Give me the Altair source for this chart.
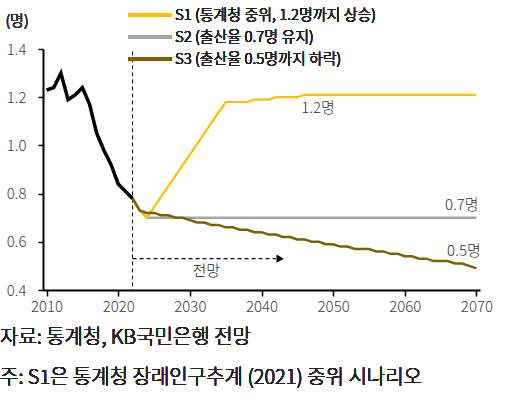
import altair as alt
import pandas as pd

FONT = "Noto Sans CJK KR"

# ---------------- data ----------------
hist_years = [2010, 2011, 2012, 2013, 2014, 2015, 2016, 2017, 2018, 2019, 2020, 2021, 2022]
hist_values = [1.23, 1.24, 1.30, 1.19, 1.21, 1.24, 1.17, 1.05, 0.98, 0.92, 0.84, 0.81, 0.78]

proj_years = list(range(2022, 2071))
s1_values = [0.78, 0.73, 0.70, 0.744, 0.787, 0.831, 0.875, 0.918, 0.962, 1.005,
             1.049, 1.093, 1.136, 1.18, 1.18, 1.18, 1.18, 1.19, 1.19, 1.19,
             1.20, 1.20, 1.20, 1.20, 1.21, 1.21, 1.21, 1.21, 1.21, 1.21,
             1.21, 1.21, 1.21, 1.21, 1.21, 1.21, 1.21, 1.21, 1.21, 1.21,
             1.21, 1.21, 1.21, 1.21, 1.21, 1.21, 1.21, 1.21, 1.21]
s2_values = [0.78, 0.73, 0.70, 0.70, 0.70, 0.70, 0.70, 0.70, 0.70, 0.70,
             0.70, 0.70, 0.70, 0.70, 0.70, 0.70, 0.70, 0.70, 0.70, 0.70,
             0.70, 0.70, 0.70, 0.70, 0.70, 0.70, 0.70, 0.70, 0.70, 0.70,
             0.70, 0.70, 0.70, 0.70, 0.70, 0.70, 0.70, 0.70, 0.70, 0.70,
             0.70, 0.70, 0.70, 0.70, 0.70, 0.70, 0.70, 0.70, 0.70]
s3_values = [0.78, 0.73, 0.72, 0.72, 0.71, 0.71, 0.70, 0.70, 0.69, 0.68,
             0.68, 0.67, 0.67, 0.66, 0.66, 0.65, 0.65, 0.64, 0.64, 0.63,
             0.63, 0.62, 0.62, 0.61, 0.61, 0.60, 0.60, 0.59, 0.59, 0.58,
             0.58, 0.57, 0.57, 0.57, 0.56, 0.56, 0.55, 0.55, 0.54, 0.54,
             0.53, 0.53, 0.52, 0.52, 0.52, 0.51, 0.51, 0.50, 0.49]

series_names = ["S1 (통계청 중위, 1.2명까지 상승)",
                "S2 (출산율 0.7명 유지)",
                "S3 (출산율 0.5명까지 하락)"]
series_colors = ["#FFC000", "#A6A6A6", "#7F6000"]

x_ticks = [2010, 2020, 2030, 2040, 2050, 2060, 2070]
y_ticks = [0.4, 0.6, 0.8, 1.0, 1.2, 1.4]

end_labels = ["1.2명", "0.7명", "0.5명"]
end_label_years = [2047.9, 2070.3, 2070.6]
end_label_values = [1.155, 0.752, 0.56]

unit_label = "(명)"
forecast_label = "전망"
source_note = "자료: 통계청, KB국민은행 전망"
foot_note = "주: S1은 통계청 장래인구추계 (2021) 중위 시나리오"

# ---------------- tables ----------------
hist_df = pd.DataFrame({"year": hist_years, "value": hist_values})
proj_frames = []
for name, vals in zip(series_names, [s1_values, s2_values, s3_values]):
    proj_frames.append(pd.DataFrame({"year": proj_years, "value": vals, "series": name}))

W, H = 437, 241
TXT = dict(font=FONT, fontWeight=300)

xs = alt.X("year:Q",
           scale=alt.Scale(domain=[2009.5, 2070.5], nice=False, zero=False),
           axis=alt.Axis(values=x_ticks, format="d", title=None, grid=False,
                         labelFontSize=15, labelColor="#404040", labelFont=FONT,
                         labelFontWeight=300,
                         domainColor="black", domainWidth=2, tickColor="black",
                         tickWidth=1.5, tickSize=6, labelPadding=3))
ys = alt.Y("value:Q",
           scale=alt.Scale(domain=[0.4, 1.4], nice=False, zero=False),
           axis=alt.Axis(values=y_ticks, format=".1f", title=None, grid=False,
                         labelFontSize=15, labelColor="#404040", labelFont=FONT,
                         labelFontWeight=300,
                         domainColor="black", domainWidth=2, tickColor="black",
                         tickWidth=1.5, tickSize=5, labelPadding=12))

layers = []

# dashed vertical separator at last observed year
sep_df = pd.DataFrame({"year": [hist_years[-1]], "value": [1.39], "value2": [0.4]})
layers.append(alt.Chart(sep_df).mark_rule(color="black", strokeWidth=1, strokeDash=[4, 3])
              .encode(x=xs, y=ys, y2="value2:Q"))

# projection lines (draw order: S2, S1, S3)
widths = [2.2, 2.5, 2.5]
for idx in [1, 0, 2]:
    layers.append(alt.Chart(proj_frames[idx]).mark_line(color=series_colors[idx],
                                                        strokeWidth=widths[idx])
                  .encode(x=xs, y=ys))

# history
layers.append(alt.Chart(hist_df).mark_line(color="black", strokeWidth=3.5)
              .encode(x=xs, y=ys))

# forecast arrow
arrow_df = pd.DataFrame({"year": [hist_years[-1]], "year2": [2042.0], "value": [0.53]})
layers.append(alt.Chart(arrow_df).mark_rule(color="black", strokeWidth=1.3, strokeDash=[4, 3])
              .encode(x=xs, x2="year2:Q", y=ys))
head_df = pd.DataFrame({"year": [2042.6], "value": [0.53]})
layers.append(alt.Chart(head_df).mark_point(shape="triangle-right", filled=True, size=70,
                                            color="black", opacity=1)
              .encode(x=xs, y=ys))
fc_df = pd.DataFrame({"year": [2032.3], "value": [0.48], "t": [forecast_label]})
layers.append(alt.Chart(fc_df).mark_text(fontSize=15, color="#222222",
                                         align="center", baseline="middle", **TXT)
              .encode(x=xs, y=ys, text="t:N"))

# end labels
for i in range(3):
    lab_df = pd.DataFrame({"year": [end_label_years[i]], "value": [end_label_values[i]],
                           "t": [end_labels[i]]})
    layers.append(alt.Chart(lab_df).mark_text(fontSize=15, color="#333333",
                                              align="center" if i == 0 else "right",
                                              baseline="middle", **TXT)
                  .encode(x=xs, y=ys, text="t:N"))

# manual legend
for i, name in enumerate(series_names):
    ly = -34 + 22 * i
    layers.append(alt.Chart(hist_df).mark_rule(color=series_colors[i], strokeWidth=3)
                  .encode(x=alt.value(85), x2=alt.value(129), y=alt.value(ly)))
    layers.append(alt.Chart(hist_df).mark_text(text=name, fontSize=15,
                                               color="#222222", align="left",
                                               baseline="middle", **TXT)
                  .encode(x=alt.value(132), y=alt.value(ly)))

# unit label and notes
layers.append(alt.Chart(hist_df).mark_text(text=unit_label, fontSize=15,
                                           color="#333333", align="center",
                                           baseline="middle", **TXT)
              .encode(x=alt.value(-26), y=alt.value(-28)))
layers.append(alt.Chart(hist_df).mark_text(text=source_note, fontSize=20,
                                           color="#222222", align="left",
                                           baseline="middle", **TXT)
              .encode(x=alt.value(-43), y=alt.value(289)))
layers.append(alt.Chart(hist_df).mark_text(text=foot_note, fontSize=20,
                                           color="#222222", align="left",
                                           baseline="middle", **TXT)
              .encode(x=alt.value(-43), y=alt.value(329)))

chart = alt.layer(*layers).properties(
    width=W, height=H,
    autosize=alt.AutoSizeParams(type="none"),
    padding={"left": 43, "top": 49, "right": 40, "bottom": 122},
    background="white",
).configure_view(stroke=None)

chart.save("out.html", embed_options={"renderer": "svg", "actions": False})
